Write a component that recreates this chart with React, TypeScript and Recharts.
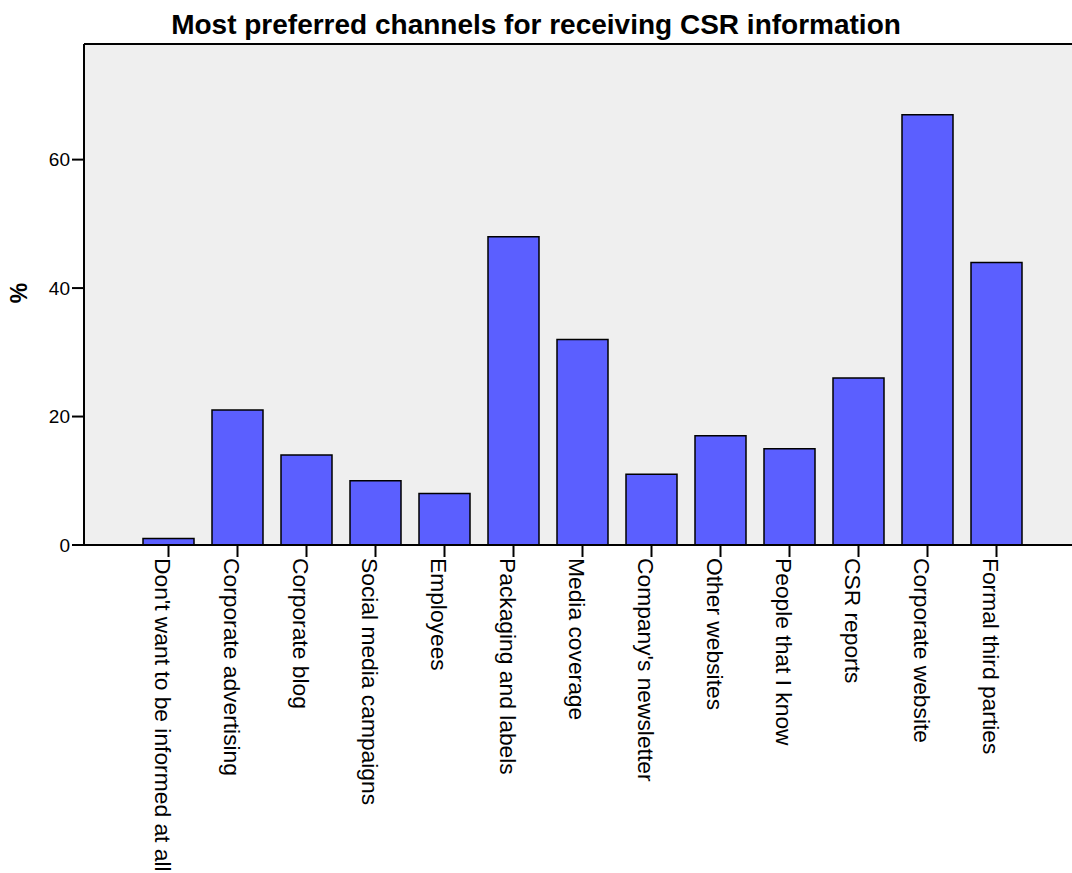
import React from 'react';
import { BarChart, Bar, XAxis, YAxis, CartesianGrid, ReferenceLine } from 'recharts';

const categories = [
  "Don't want to be informed at all",
  'Corporate advertising',
  'Corporate blog',
  'Social media campaigns',
  'Employees',
  'Packaging and labels',
  'Media coverage',
  "Company's newsletter",
  'Other websites',
  'People that I know',
  'CSR reports',
  'Corporate website',
  'Formal third parties',
];
const percents = [1, 21, 14, 10, 8, 48, 32, 11, 17, 15, 26, 67, 44];
const yTicks = [0, 20, 40, 60];
const yMax = 78;

const data = categories.map((name, i) => ({ name, value: percents[i] }));

const FONT = '"Liberation Sans", Arial, Helvetica, sans-serif';

const XTick = (props: any) => {
  const { x, y, payload } = props;
  return (
    <g transform={`translate(${x},${y + 1}) rotate(90)`}>
      <text x={0} y={14} textAnchor="start" fontSize={22.8} fontFamily={FONT} fill="#000">
        {payload.value}
      </text>
    </g>
  );
};

export default function App() {
  return (
    <div style={{ position: 'absolute', left: 0, top: 0, width: 1072, height: 873, background: '#fff' }}>
      <div
        style={{
          position: 'absolute',
          left: 0,
          top: 9,
          width: 1072,
          textAlign: 'center',
          fontFamily: FONT,
          fontWeight: 'bold',
          fontSize: 28,
          lineHeight: '32px',
          color: '#000',
        }}
      >
        Most preferred channels for receiving CSR information
      </div>
      <BarChart
        width={1072}
        height={873}
        data={data}
        margin={{ top: 44, right: 0, bottom: 0, left: 0 }}
        barSize={51}
      >
        <CartesianGrid horizontal={false} vertical={false} fill="#efefef" fillOpacity={1} />
        <YAxis
          width={84}
          domain={[0, yMax]}
          ticks={yTicks}
          allowDataOverflow
          axisLine={{ stroke: '#000', strokeWidth: 2 }}
          tickLine={{ stroke: '#000', strokeWidth: 2 }}
          tickSize={12}
          tickMargin={2}
          tick={{ fontSize: 19, fontFamily: FONT, fill: '#000' }}
          label={{
            content: () => (
              <text
                x={19}
                y={293}
                transform="rotate(-90 19 293)"
                textAnchor="middle"
                dominantBaseline="central"
                fontSize={23}
                fontWeight="bold"
                fontFamily={FONT}
                fill="#000"
              >
                %
              </text>
            ),
          }}
        />
        <XAxis
          dataKey="name"
          height={328}
          interval={0}
          padding={{ left: 50, right: 41 }}
          axisLine={{ stroke: '#000', strokeWidth: 2 }}
          tickLine={{ stroke: '#000', strokeWidth: 2 }}
          tickSize={12}
          tickMargin={0}
          tick={<XTick />}
        />
        <ReferenceLine y={yMax} stroke="#000" strokeWidth={2} ifOverflow="extendDomain" />
        <Bar dataKey="value" fill="#5b5fff" stroke="#000" strokeWidth={1.5} isAnimationActive={false} />
      </BarChart>
    </div>
  );
}
